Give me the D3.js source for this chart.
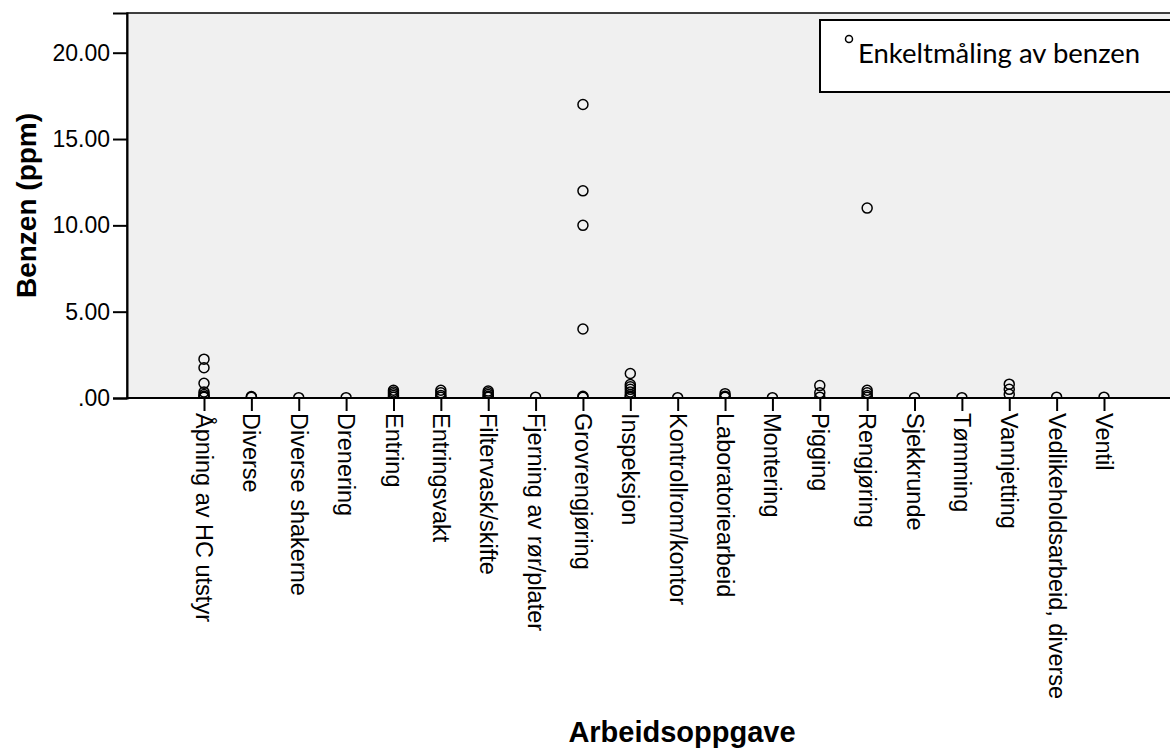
<!DOCTYPE html>
<html>
<head>
<meta charset="utf-8">
<script src="https://cdn.jsdelivr.net/npm/d3@7"></script>
<style>
  html, body { margin: 0; padding: 0; background: #ffffff; }
  svg { display: block; }
</style>
</head>
<body>
<svg id="chart" width="1170" height="749"></svg>
<script>
// ---- data ----
const categories = [
  "Åpning av HC utstyr", "Diverse", "Diverse shakerne", "Drenering", "Entring",
  "Entringsvakt", "Filtervask/skifte", "Fjerning av rør/plater", "Grovrengjøring",
  "Inspeksjon", "Kontrollrom/kontor", "Laboratoriearbeid", "Montering", "Pigging",
  "Rengjøring", "Sjekkrunde", "Tømming", "Vannjetting", "Vedlikeholdsarbeid, diverse", "Ventil"
];
const benzenValues = [
  [2.25, 1.75, 0.85, 0.35, 0.2, 0.1, 0.05],
  [0.08, 0.05],
  [0.02],
  [0.02],
  [0.45, 0.35, 0.25, 0.15, 0.05],
  [0.45, 0.3, 0.15, 0.05],
  [0.4, 0.3, 0.2, 0.1, 0.05],
  [0.05],
  [17.0, 12.0, 10.0, 4.0, 0.1, 0.05],
  [1.42, 0.78, 0.65, 0.5, 0.35, 0.2, 0.1, 0.05],
  [0.02],
  [0.25, 0.1, 0.05],
  [0.02],
  [0.72, 0.3, 0.05],
  [11.0, 0.45, 0.3, 0.15, 0.05],
  [0.02],
  [0.02],
  [0.8, 0.5, 0.22],
  [0.05],
  [0.05]
];
const yTicks = [0, 5, 10, 15, 20];
const yTickLabels = [".00", "5.00", "10.00", "15.00", "20.00"];
const yTitle = "Benzen (ppm)";
const xTitle = "Arbeidsoppgave";
const legendLabel = "Enkeltmåling av benzen";

// ---- layout ----
const svg = d3.select("#chart");
const plotLeft = 127, plotTop = 13, plotBottom = 398;
const x = d3.scalePoint().domain(categories).range([204, 1104]);
const plotRight = x(categories[categories.length - 1]) + (x(categories[0]) - plotLeft);
const y = d3.scaleLinear().domain([0, 22.3]).range([plotBottom, plotTop]);

const points = [];
categories.forEach((c, i) => benzenValues[i].forEach(v => points.push({ c, v })));

// background
svg.append("rect")
  .attr("x", plotLeft).attr("y", plotTop)
  .attr("width", plotRight - plotLeft).attr("height", plotBottom - plotTop)
  .attr("fill", "#f0f0f0").attr("stroke", "#000").attr("stroke-width", 1.5);

svg.append("defs").append("clipPath").attr("id", "plotclip")
  .append("rect").attr("x", plotLeft).attr("y", plotTop)
  .attr("width", plotRight - plotLeft).attr("height", plotBottom - plotTop);

// points
svg.append("g").attr("clip-path", "url(#plotclip)")
  .selectAll("circle").data(points).join("circle")
  .attr("cx", d => x(d.c)).attr("cy", d => y(d.v)).attr("r", 5)
  .attr("fill", "none").attr("stroke", "#000").attr("stroke-width", 1.5);

// y axis
const yAxis = d3.axisLeft(y).tickValues(yTicks)
  .tickFormat((d, i) => yTickLabels[i]).tickSize(14).tickPadding(3);
const gy = svg.append("g").attr("transform", `translate(${plotLeft},0)`).call(yAxis);
gy.select(".domain").attr("stroke", "#000").attr("stroke-width", 2);
gy.selectAll(".tick line").attr("stroke", "#000").attr("stroke-width", 2);
gy.selectAll(".tick text").attr("font-family", "'Liberation Sans', Arial, sans-serif")
  .attr("font-size", 23).attr("fill", "#000");

// x axis
const xAxis = d3.axisBottom(x).tickSize(13).tickPadding(2);
const gx = svg.append("g").attr("transform", `translate(0,${plotBottom})`).call(xAxis);
gx.select(".domain").attr("d", `M${plotLeft},0H${plotRight}`).attr("stroke", "#000").attr("stroke-width", 2);
gx.selectAll(".tick line").attr("stroke", "#000").attr("stroke-width", 2);
gx.selectAll(".tick text")
  .attr("font-family", "'Liberation Sans', Arial, sans-serif")
  .attr("font-size", 23.5).attr("fill", "#000")
  .attr("text-anchor", "start")
  .attr("transform", "translate(0,15) rotate(90)")
  .attr("x", 0).attr("y", 0).attr("dy", "0.36em");

// axis titles
svg.append("text")
  .attr("transform", `translate(36,${(plotTop + plotBottom) / 2}) rotate(-90)`)
  .attr("text-anchor", "middle")
  .attr("font-family", "'Liberation Sans', Arial, sans-serif")
  .attr("font-weight", "bold").attr("font-size", 28).attr("fill", "#000")
  .text(yTitle);

svg.append("text")
  .attr("x", 682).attr("y", 742)
  .attr("text-anchor", "middle")
  .attr("font-family", "'Liberation Sans', Arial, sans-serif")
  .attr("font-weight", "bold").attr("font-size", 29).attr("fill", "#000")
  .text(xTitle);

// legend
const lg = svg.append("g");
lg.append("rect").attr("x", 820).attr("y", 20).attr("width", 400).attr("height", 72)
  .attr("fill", "#fff").attr("stroke", "#000").attr("stroke-width", 2);
lg.append("circle").attr("cx", 849).attr("cy", 39).attr("r", 3.5)
  .attr("fill", "none").attr("stroke", "#000").attr("stroke-width", 1.5);
lg.append("text").attr("x", 858).attr("y", 63)
  .attr("font-family", "Lato, 'Open Sans', sans-serif")
  .attr("font-size", 27.5).attr("fill", "#000")
  .text(legendLabel);
</script>
</body>
</html>
